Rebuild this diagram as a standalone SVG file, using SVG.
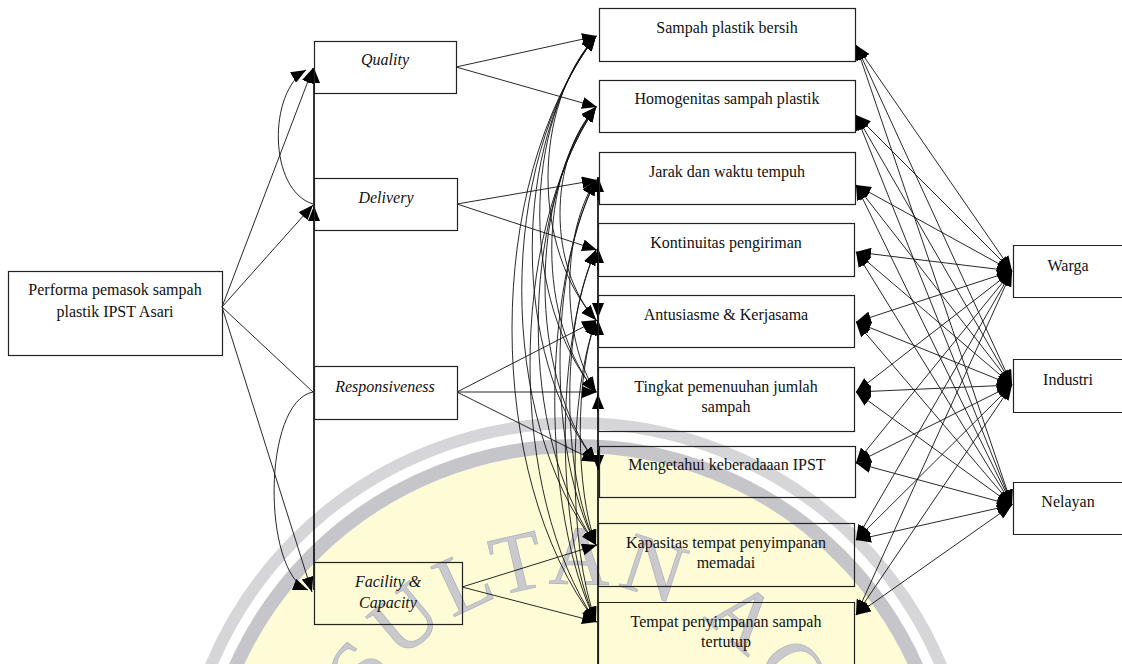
<svg xmlns="http://www.w3.org/2000/svg" width="1122" height="664" viewBox="0 0 1122 664">
<defs>
<marker id="ah" viewBox="0 0 15 12" refX="15" refY="6" markerWidth="15" markerHeight="12" markerUnits="userSpaceOnUse" orient="auto-start-reverse"><path d="M0,0 L15,6 L0,12 z" fill="#000"/></marker>
<path id="wmArc" d="M341,819 A235,235 0 0 1 811,819"/>
</defs>
<style>
.box{fill:none;stroke:#222;stroke-width:1.2}
.t{font-family:"Liberation Serif","Times New Roman",serif;font-size:16px;fill:#111;text-anchor:middle}
.i{font-style:italic}
.c{fill:none;stroke:#111;stroke-width:0.9}
.b{marker-end:url(#ah)}
.d{marker-start:url(#ah);marker-end:url(#ah)}
.v{fill:none;stroke:#000;stroke-width:1.6}
</style>
<rect width="1122" height="664" fill="#fff"/>
<g id="watermark">
<circle cx="576" cy="819" r="366" fill="#fdfcd6"/>
<circle cx="576" cy="819" r="373" fill="none" stroke="#c6c6ca" stroke-width="14"/>
<circle cx="576" cy="819" r="396" fill="none" stroke="#d6d6d8" stroke-width="12"/>
<text font-family="Liberation Serif,serif" font-size="84" fill="#c9c9ce" stroke="#b4b4bb" stroke-width="0.8" letter-spacing="7"><textPath href="#wmArc" startOffset="118">SULTAN AG</textPath></text>
</g>
<g id="connectors">
<path class="c b" d="M222,307 L313,68"/>
<path class="c b" d="M222,307 L313,205"/>
<path class="c" d="M222,307 L313,392"/>
<path class="c b" d="M222,307 L312,592"/>
<path class="c b" d="M313,204 C268,190 268,92 306,70"/>
<path class="c b" d="M313,392 C262,402 262,572 308,590"/>
<path class="v b" d="M314,590 V206"/>
<path class="v b" d="M314,206 V68"/>
<path class="c b" d="M456,67 L597,36"/>
<path class="c b" d="M456,67 L597,107"/>
<path class="c b" d="M457,204 L597,180"/>
<path class="c b" d="M457,204 L597,250"/>
<path class="c b" d="M457,392 L597,320"/>
<path class="c b" d="M457,392 L597,392"/>
<path class="c b" d="M457,392 L597,462"/>
<path class="c b" d="M462,587 L597,545"/>
<path class="c b" d="M462,587 L597,622"/>
<path class="v" d="M598,664 V190"/>
<path class="v b" d="M598,200 V177"/>
<path class="v b" d="M598,270 V248"/>
<path class="v b" d="M598,340 V320"/>
<path class="v b" d="M598,300 V318"/>
<path class="v b" d="M598,412 V394"/>
<path class="v b" d="M598,450 V470"/>
<path class="c d" d="M596,36 C532,107 532,249 596,320"/>
<path class="c d" d="M596,36 C521,125 521,303 596,392"/>
<path class="c d" d="M596,36 C511,142 511,356 596,462"/>
<path class="c d" d="M596,36 C497,163 497,418 596,545"/>
<path class="c d" d="M596,36 C484,182 484,476 596,622"/>
<path class="c d" d="M596,107 C548,160 548,267 596,320"/>
<path class="c d" d="M596,107 C537,178 537,321 596,392"/>
<path class="c d" d="M596,107 C528,196 528,373 596,462"/>
<path class="c d" d="M596,107 C519,216 519,435 596,545"/>
<path class="c d" d="M596,107 C508,236 508,493 596,622"/>
<path class="c d" d="M596,180 C561,233 561,339 596,392"/>
<path class="c d" d="M596,180 C548,271 548,454 596,545"/>
<path class="c d" d="M596,180 C541,290 541,511 596,622"/>
<path class="c d" d="M596,250 C561,324 561,471 596,545"/>
<path class="c d" d="M596,250 C555,343 555,529 596,622"/>
<path class="c d" d="M596,320 C575,376 575,489 596,545"/>
<path class="c d" d="M596,320 C568,395 568,546 596,622"/>
<path class="c d" d="M856,45 L1012,271"/>
<path class="c d" d="M856,45 L1012,385"/>
<path class="c d" d="M856,45 L1012,505"/>
<path class="c d" d="M856,115 L1012,271"/>
<path class="c d" d="M856,115 L1012,385"/>
<path class="c d" d="M856,115 L1012,505"/>
<path class="c d" d="M856,185 L1012,271"/>
<path class="c d" d="M856,185 L1012,385"/>
<path class="c d" d="M856,185 L1012,505"/>
<path class="c d" d="M856,252 L1012,271"/>
<path class="c d" d="M856,252 L1012,385"/>
<path class="c d" d="M856,252 L1012,505"/>
<path class="c d" d="M856,322 L1012,271"/>
<path class="c d" d="M856,322 L1012,385"/>
<path class="c d" d="M856,322 L1012,505"/>
<path class="c d" d="M856,392 L1012,271"/>
<path class="c d" d="M856,392 L1012,385"/>
<path class="c d" d="M856,392 L1012,505"/>
<path class="c d" d="M856,463 L1012,271"/>
<path class="c d" d="M856,463 L1012,385"/>
<path class="c d" d="M856,463 L1012,505"/>
<path class="c d" d="M856,540 L1012,271"/>
<path class="c d" d="M856,540 L1012,385"/>
<path class="c d" d="M856,540 L1012,505"/>
<path class="c d" d="M856,615 L1012,271"/>
<path class="c d" d="M856,615 L1012,385"/>
<path class="c d" d="M856,615 L1012,505"/>
</g>
<g id="n-performa"><rect class="box" x="8.5" y="271.5" width="214" height="84"/><text class="t" x="115" y="295">Performa pemasok sampah</text><text class="t" x="115" y="317">plastik IPST Asari</text></g>
<g id="n-quality"><rect class="box" x="314.5" y="41.5" width="142" height="52"/><text class="t i" x="385" y="65">Quality</text></g>
<g id="n-delivery"><rect class="box" x="314.5" y="178.5" width="143" height="52"/><text class="t i" x="386" y="203">Delivery</text></g>
<g id="n-responsiveness"><rect class="box" x="314.5" y="366.5" width="143" height="53"/><text class="t i" x="385" y="392">Responsiveness</text></g>
<g id="n-facility"><rect class="box" x="314.5" y="562.5" width="148" height="62"/><text class="t i" x="388" y="587">Facility &amp;</text><text class="t i" x="388" y="608">Capacity</text></g>
<g id="n-sampah"><rect class="box" x="599.5" y="8.5" width="256" height="53"/><text class="t" x="727" y="33">Sampah plastik bersih</text></g>
<g id="n-homogenitas"><rect class="box" x="599.5" y="80.5" width="256" height="52"/><text class="t" x="727" y="104">Homogenitas sampah plastik</text></g>
<g id="n-jarak"><rect class="box" x="599.5" y="152.5" width="256" height="52"/><text class="t" x="727" y="177">Jarak dan waktu tempuh</text></g>
<g id="n-kontinuitas"><rect class="box" x="598.5" y="223.5" width="256" height="53"/><text class="t" x="726" y="248">Kontinuitas pengiriman</text></g>
<g id="n-antusiasme"><rect class="box" x="598.5" y="295.5" width="256" height="52"/><text class="t" x="726" y="320">Antusiasme &amp; Kerjasama</text></g>
<g id="n-tingkat"><rect class="box" x="598.5" y="367.5" width="256" height="64"/><text class="t" x="726" y="392">Tingkat pemenuuhan jumlah</text><text class="t" x="726" y="412">sampah</text></g>
<g id="n-mengetahui"><rect class="box" x="599.5" y="446.5" width="256" height="51"/><text class="t" x="727" y="470">Mengetahui keberadaaan IPST</text></g>
<g id="n-kapasitas"><rect class="box" x="598.5" y="523.5" width="256" height="63"/><text class="t" x="726" y="548">Kapasitas tempat penyimpanan</text><text class="t" x="726" y="568">memadai</text></g>
<g id="n-tempat"><path class="box" d="M598.5,664 V602.5 H854.5 V664"/><text class="t" x="726" y="627">Tempat penyimpanan sampah</text><text class="t" x="726" y="647">tertutup</text></g>
<g id="n-warga"><path class="box" d="M1122,245.5 H1013.5 V297.5 H1122"/><text class="t" x="1068" y="271">Warga</text></g>
<g id="n-industri"><path class="box" d="M1122,359.5 H1013.5 V412.5 H1122"/><text class="t" x="1068" y="385">Industri</text></g>
<g id="n-nelayan"><path class="box" d="M1122,482.5 H1013.5 V534.5 H1122"/><text class="t" x="1068" y="507">Nelayan</text></g>
</svg>
